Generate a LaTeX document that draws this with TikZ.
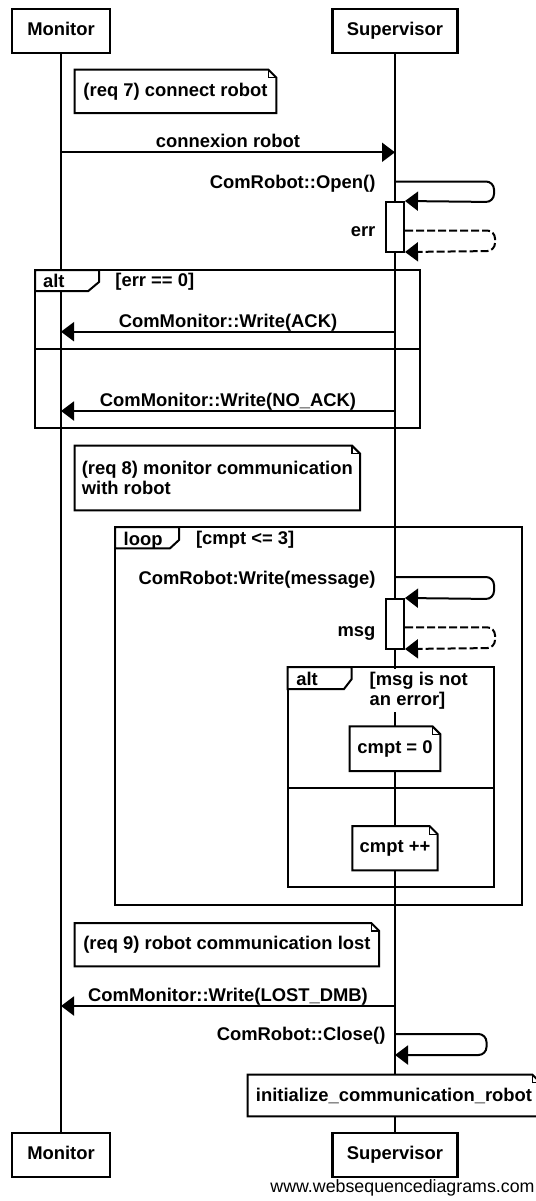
\documentclass[tikz,border=0pt]{standalone}
\usepackage{fontspec}
\setmainfont{Liberation Sans}
\usetikzlibrary{arrows.meta}

% outline of a note with its folded corner
\newcommand{\notefold}[1]{%
  \draw [line width=1pt] (#1.south west) -- (#1.north west) -- ([xshift=-4pt]#1.north east)
    -- ([yshift=-4pt]#1.north east) -- (#1.south east) -- cycle;
  \draw [line width=0.7pt] ([xshift=-4pt]#1.north east) |- ([yshift=-4pt]#1.north east);}

\begin{document}
\begin{tikzpicture}[x=0.5pt, y=-0.5pt, >={Triangle[length=6.5pt, width=9.5pt]},
    every node/.style={font=\bfseries\fontsize{9.2}{10}\selectfont},
    actor/.style={draw, line width=1.2pt, minimum height=22pt, inner sep=0pt, text height=6.7pt, text depth=1.9pt},
    life/.style={line width=1pt},
    msg/.style={->, line width=1pt},
    ret/.style={->, line width=1pt, dash pattern=on 4pt off 1.5pt},
    self/.style={rounded corners=4pt},
    act/.style={draw, fill=white, line width=1pt, minimum width=9pt, minimum height=25pt, inner sep=0pt},
    note/.style={fill=white, inner sep=0pt, align=left},
    sdframe/.style={draw, line width=1pt},
    tag/.style={anchor=base west, inner sep=0pt},
    lbl/.style={anchor=base, inner sep=0pt, yshift=2.3pt},
    slbl/.style={anchor=base east, inner sep=0pt, xshift=-4.6pt}]

    \useasboundingbox (0,0) rectangle (536,1201);

    % Actors {mon, sup}
    \node [actor, minimum width=49pt]   (mon)  at (61,31)      {Monitor};
    \node [actor, minimum width=62.5pt] (sup)  at (395,31)     {Supervisor};
    \node [actor, minimum width=49pt]   (mon2) at (61,1154.7)  {Monitor};
    \node [actor, minimum width=62.5pt] (sup2) at (395,1154.7) {Supervisor};

    % Lifelines
    \draw [life] (mon) -- (mon2);
    \draw [life] (sup) -- (sup2);

    % Guard that hides the lifeline
    \node [note, anchor=north west, inner xsep=1pt, inner ysep=1.5pt] (g3) at (367.3,668.5) {[msg is not\\an error]};

    % Frames
    \draw [sdframe] (35,270) rectangle (420,428);
    \draw [sdframe] (35,349.3) -- (420,349.3);
    \filldraw [sdframe, fill=white] (35,270) -- (99,270) -- (99,282) -- (88.3,291) -- (35,291) -- cycle;
    \node [tag] (t1) at (42.7,287)   {alt};
    \node [tag] (g1) at (115,286.5)  {[err == 0]};

    \draw [sdframe] (115,527) rectangle (522,905);
    \filldraw [sdframe, fill=white] (115,527) -- (179,527) -- (179,540) -- (170,548.3) -- (115,548.3) -- cycle;
    \node [tag] (t2) at (123.3,545.5) {loop};
    \node [tag] (g2) at (195.7,544.5) {[cmpt <= 3]};

    \draw [sdframe] (287.5,667) rectangle (493.5,887);
    \draw [sdframe] (287.5,787.7) -- (493.5,787.7);
    \filldraw [sdframe, fill=white] (287.5,667) -- (351.7,667) -- (351.7,679) -- (344,689) -- (287.5,689) -- cycle;
    \node [tag] (t3) at (296,685)     {alt};

    % Notes
    \node [note, minimum width=100.5pt, minimum height=21.3pt] (n7) at (175.5,91.3) {(req 7) connect robot};
    \notefold{n7}
    \node [note, minimum width=142.3pt, minimum height=32pt] (n8) at (217.3,478) {(req 8) monitor communication\\with robot};
    \notefold{n8}
    \node [note, minimum width=45pt, minimum height=22pt] (c0) at (sup |- 0,748.7) {cmpt = 0};
    \notefold{c0}
    \node [note, minimum width=42.3pt, minimum height=21.7pt] (c1) at (sup |- 0,848.3) {cmpt ++};
    \notefold{c1}
    \node [note, minimum width=151.9pt, minimum height=21.3pt] (n9) at (226.9,944.7) {(req 9) robot communication lost};
    \notefold{n9}
    \node [note, minimum width=146pt, minimum height=20.5pt] (init) at (394,1095.5) {initialize\_communication\_robot};
    \notefold{init}

    % Activations
    \node [act] (act1) at (sup |- 0,227) {};
    \node [act] (act2) at (sup |- 0,624) {};

    % Messages
    \draw [msg] (mon |- 0,152.3) -- node [lbl] (m1) {connexion robot} (sup |- 0,152.3);
    \draw [msg, self] (sup |- 0,181.5) -- ++(99,0) -- ++(0,20.5) -- (act1.north east);
    \node [slbl] (m2) at (act1.west |- 0,188.5) {ComRobot::Open()};
    \draw [ret, self] (act1.east |- 0,230.5) -- ++(90,0) -- ++(0,20.5) -- ([yshift=0.5pt]act1.south east);
    \node [slbl] (m3) at (act1.west |- 0,236.5) {err};
    \draw [msg] (sup |- 0,331.7) -- node [lbl] (m4) {ComMonitor::Write(ACK)} (mon |- 0,331.7);
    \draw [msg] (sup |- 0,411) -- node [lbl] (m5) {ComMonitor::Write(NO\_ACK)} (mon |- 0,411);
    \draw [msg, self] (sup |- 0,577) -- ++(99,0) -- ++(0,22) -- (act2.north east);
    \node [slbl] (m6) at (act2.west |- 0,584) {ComRobot:Write(message)};
    \draw [ret, self] (act2.east |- 0,627.3) -- ++(90,0) -- ++(0,20.7) -- ([yshift=0.5pt]act2.south east);
    \node [slbl] (m7) at (act2.west |- 0,636) {msg};
    \draw [msg] (sup |- 0,1006) -- node [lbl] (m8) {ComMonitor::Write(LOST\_DMB)} (mon |- 0,1006);
    \draw [msg, self] (sup |- 0,1034) -- ++(91.5,0) -- ++(0,21) -- (sup |- 0,1055);
    \node [slbl] (m9) at (sup |- 0,1040.5) {ComRobot::Close()};

    % Footer
    \node [anchor=base west, inner sep=0pt, font=\mdseries\fontsize{8.9}{10}\selectfont] (www) at (270,1192.7) {www.websequencediagrams.com};

\end{tikzpicture}
\end{document}
